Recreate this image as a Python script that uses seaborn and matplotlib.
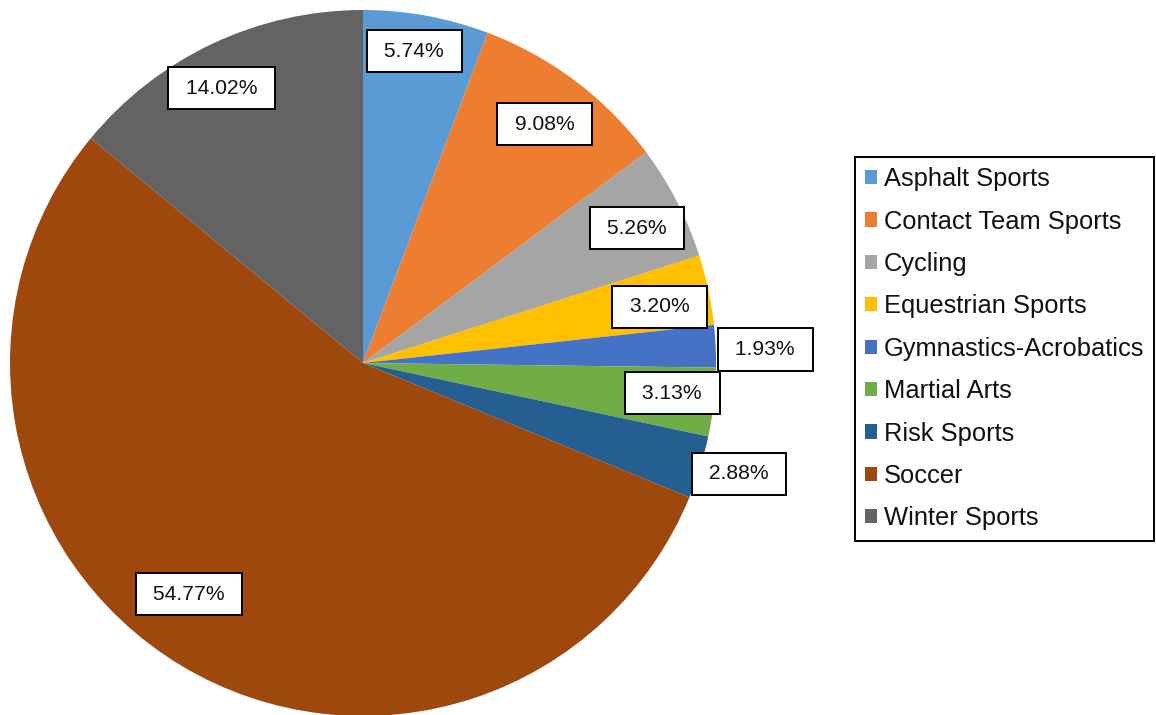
import numpy as np
import matplotlib
matplotlib.use("Agg")
import matplotlib.pyplot as plt
import seaborn as sns

# données
categories = ["Asphalt Sports", "Contact Team Sports", "Cycling", "Equestrian Sports",
              "Gymnastics-Acrobatics", "Martial Arts", "Risk Sports", "Soccer", "Winter Sports"]
shares = [5.74, 9.08, 5.26, 3.20, 1.93, 3.13, 2.88, 54.77, 14.02]
colors = ["#5B9BD5", "#ED7D31", "#A5A5A5", "#FFC000", "#4472C4",
          "#70AD47", "#255E91", "#9E480E", "#636363"]

# placement des étiquettes (distance radiale, décalage angulaire en degrés)
label_dist = [0.895, 0.85, 0.865, 0.855, 1.14, 0.88, 1.11, 0.82, 0.875]
label_shift = [1.0, -0.3, -1.0, -1.2, -0.8, 0.8, 0.8, -6.0, 2.0]

sns.set_theme(style="white")
plt.rcParams["font.family"] = ["Liberation Sans", "DejaVu Sans"]
palette = sns.color_palette(colors)

fig = plt.figure(figsize=(11.56, 7.15), dpi=100)
ax = fig.add_axes([10 / 1156, -1 / 715, 706 / 1156, 706 / 715])

wedges, _ = ax.pie(shares, colors=palette, startangle=90, counterclock=False,
                   radius=1, wedgeprops=dict(linewidth=0))
ax.set_xlim(-1, 1)
ax.set_ylim(-1, 1)
ax.set_aspect("equal")
ax.axis("off")

for w, val, d, s in zip(wedges, shares, label_dist, label_shift):
    ang = np.deg2rad((w.theta1 + w.theta2) / 2 + s)
    ax.text(d * np.cos(ang), d * np.sin(ang), f" {val:.2f}% ",
            ha="center", va="center", fontsize=15.2, color="#111111",
            bbox=dict(boxstyle="square,pad=0.55", facecolor="white",
                      edgecolor="black", linewidth=1.4), zorder=5)

leg = fig.legend(wedges, categories, loc="upper left",
                 bbox_to_anchor=(855 / 1156, 1 - 157 / 715),
                 fontsize=18.4, frameon=True, fancybox=False, shadow=False,
                 framealpha=1, handlelength=0.48, handleheight=0.48,
                 handletextpad=0.25, labelspacing=0.72, borderpad=0.4,
                 borderaxespad=0)
leg.get_frame().set_edgecolor("black")
leg.get_frame().set_linewidth(1.4)
for t in leg.get_texts():
    t.set_color("#111111")

fig.savefig("out.png", dpi=100)
